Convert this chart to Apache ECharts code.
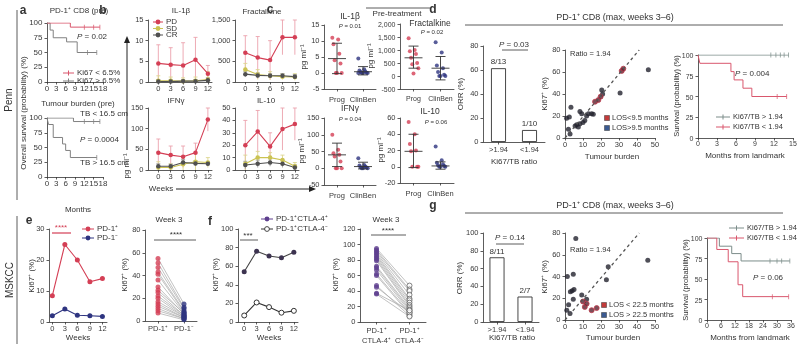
<!DOCTYPE html>
<html>
<head>
<meta charset="utf-8">
<title>Ki67 / tumour burden figure</title>
<script src="https://cdn.jsdelivr.net/npm/echarts@6/dist/echarts.min.js"></script>
<style>
  html, body { margin: 0; padding: 0; background: #fff; }
  #wrap { position: relative; width: 800px; height: 350px; }
  #chart { width: 800px; height: 350px; }
  .ytick { position: absolute; transform: translate(-100%, -50%); white-space: nowrap; line-height: 1;
    color: #3a3a3a; font-family: "Liberation Sans", Arial, sans-serif; pointer-events: none; }
</style>
</head>
<body>
<div id="wrap"><div id="chart"></div></div>
<script>
// ---- data ----
const weeks = [0, 3, 6, 9, 12];

// a: Penn overall survival (months, %)
const kmKi67Low = [[0, 100], [7.5, 93], [17, 93]];
const kmKi67LowCens = [[12, 93], [15, 93], [17, 93]];
const kmKi67High = [[0, 100], [1, 88], [2, 75], [6.3, 68], [9.7, 50], [16, 50]];
const kmKi67HighCens = [[13, 50], [16, 50]];
const kmTbLow = [[0, 100], [8.5, 94], [17, 94]];
const kmTbLowCens = [[12, 94], [15, 94], [17, 94]];
const kmTbHigh = [[0, 100], [0.5, 89], [2, 67], [5, 56], [6, 45], [7.5, 33], [16, 33]];
const kmTbHighCens = [[16, 33]];

// b: cytokines by response (mean and upper error)
const il1bPd = [4.5, 4.2, 4.0, 5.4, 2.0], il1bPdHi = [9.0, 8.3, 9.5, 10.8, 4.0];
const il1bSd = [0.3, 0.3, 0.2, 0.3, 0.6], il1bSdHi = [1.5, 1.2, 1.0, 1.2, 2.5];
const il1bCr = [0.1, 0.1, 0.2, 0.2, 0.4], il1bCrHi = [0.6, 0.5, 0.6, 0.6, 1.0];
const fracPd = [710, 590, 530, 1080, 1080], fracPdHi = [1120, 1100, 1000, 1500, 1500];
const fracSd = [300, 180, 150, 130, 120], fracSdHi = [450, 300, 250, 200, 200];
const fracCr = [190, 160, 150, 150, 130], fracCrHi = [260, 220, 200, 200, 180];
const ifnPd = [42, 36, 32, 42, 122], ifnPdHi = [75, 58, 58, 65, 150];
const ifnSd = [6, 6, 14, 20, 18], ifnSdHi = [20, 15, 30, 40, 30];
const ifnCr = [9, 9, 18, 16, 15], ifnCrHi = [15, 14, 25, 22, 20];
const il10Pd = [20, 31, 19, 33, 37], il10PdHi = [40, 48, 30, 50, 50];
const il10Sd = [5, 10, 10, 8, 3], il10SdHi = [12, 15, 14, 12, 6];
const il10Cr = [4, 5, 6, 5, 2], il10CrHi = [7, 8, 9, 8, 4];

// c: pre-treatment, Prog vs ClinBen
const groups = ['Prog', 'ClinBen'];
const cIl1bProg = [11, 10.5, 9, 6, 4, 3, 0, 0, 0];
const cIl1bClin = [4.5, 1.2, 0.8, 0.5, 0.3, 0.1, 0, 0, 0, 0];
const cIl1bMean = [4.5, 0.4], cIl1bLo = [-0.2, -0.6], cIl1bHi = [9.3, 2.0];
const cFracProg = [1450, 1000, 950, 850, 700, 500, 450, 300, 100];
const cFracClin = [1300, 900, 400, 300, 150, 50, 0, 0, 0];
const cFracMean = [700, 300], cFracLo = [300, -150], cFracHi = [1150, 750];
const cIfnProg = [100, 55, 45, 40, 35, 20, 0, 0, 0];
const cIfnClin = [30, 10, 8, 5, 3, 2, 0, 0, 0];
const cIfnMean = [40, 5], cIfnLo = [5, -2], cIfnHi = [75, 18];
const cIl10Prog = [55, 40, 28, 20, 19, 0, 0, 0];
const cIl10Clin = [25, 8, 5, 3, 2, 1, 0, 0, 0];
const cIl10Mean = [19, 1], cIl10Lo = [-1, -3], cIl10Hi = [40, 6];

// d / g: ORR by Ki67/TB ratio
const ratioCats = ['>1.94', '<1.94'];
const dOrr = [61.5, 10], dOrrText = ['8/13', '1/10'];
const gOrr = [72.7, 28.6], gOrrText = ['8/11', '2/7'];
const ratio = 1.94;
// tumour burden vs Ki67+ (%)
const dLosLong = [[0.9, 18], [1.9, 8], [2.8, 3.6], [3.3, 28], [2.4, 19], [5.6, 11], [6.5, 12], [7.4, 10], [8.3, 13], [10, 14],
  [11, 16], [8.3, 24], [9.3, 22], [12, 20], [13, 22], [14.8, 22], [15.7, 21.5], [20.4, 43.6], [20.9, 40], [30.6, 41], [46.3, 62]];
const dLosShort = [[16.7, 33], [18.5, 34.5], [19.8, 37.6], [31.5, 61], [32.4, 63]];
const gLosLong = [[6, 75], [1.3, 40], [4.6, 42], [3, 26], [4, 27], [5, 28], [2, 14], [4.6, 19], [9.3, 23], [12, 19],
  [24, 49], [23, 37], [46, 55], [2.8, 6], [1, 9]];
const gLosShort = [[10, 17], [11, 12], [14.8, 9], [17.6, 11], [12, 15]];
// survival from landmark
const dKmHigh = [[0, 100], [14.3, 100]];
const dKmHighCens = [[11.5, 100], [12.3, 100], [13, 100], [13.6, 100], [14.3, 100]];
const dKmLow = [[0, 100], [0.3, 90], [5.2, 80], [5.7, 70], [7.1, 60], [8.5, 50], [14, 50]];
const dKmLowCens = [[12.5, 50], [14, 50]];
const gKmHigh = [[0, 100], [5.3, 90], [10.6, 81], [14.6, 72], [35.5, 72]];
const gKmHighCens = [[27, 72], [30, 72], [32, 72], [35.5, 72]];
const gKmLow = [[0, 100], [4.2, 86], [9.1, 71], [13.3, 43], [15.3, 28.5], [35, 28.5]];
const gKmLowCens = [[28, 28.5], [35, 28.5]];

// e: MSKCC Ki67+ of PD-1+ / PD-1- CD8
const ePdPos = [8.5, 25, 20, 13, 14];
const ePdNeg = [2, 4.2, 2.2, 2, 1.8];
const pdCats = ['PD-1⁺', 'PD-1⁻'];
const eWk3Pos = [55, 51, 47, 43, 41, 36, 30, 27, 25, 22, 20, 17, 15, 13, 11, 9, 7];
const eWk3Neg = [15, 12, 11, 9, 8, 7, 6, 7, 5, 5, 4, 4, 3, 3, 2, 2, 1];

// f: CTLA-4 split
const fCtlaPos = [54, 76, 71, 69, 75];
const fCtlaNeg = [7, 21, 16, 10, 12];
const ctlaCats = ['PD-1⁺\nCTLA-4⁺', 'PD-1⁺\nCTLA-4⁻'];
const fWk3Pos = [95, 93, 91, 89, 87, 85, 83, 81, 79, 72, 70, 67, 62, 60, 47, 45, 37, 36];
const fWk3Neg = [47, 42, 40, 35, 30, 28, 25, 22, 20, 18, 16, 14, 12, 10, 8, 12, 15, 7];

// ---- styles ----
const FONT = '"Liberation Sans", Arial, sans-serif';
const INK = '#333';
const RED = '#d43f55';
const KMRED = '#d9576d';
const KMGREY = '#7c8d8a';
const NAVY = '#2e3480';
const YEL = '#cbc352';
const PURP = '#5e3f8e';

const grids = [], xAxes = [], yAxes = [], series = [], graphics = [];
const yFmt = [], ySize = [];

function axisBase() {
  return {
    axisLine: { show: true, onZero: false, lineStyle: { color: INK, width: 0.8 } },
    axisTick: { show: true, length: 2.5, lineStyle: { color: INK, width: 0.8 } },
    axisLabel: { show: true, fontSize: 8, color: '#3a3a3a', margin: 3, fontFamily: FONT, hideOverlap: false },
    splitLine: { show: false }
  };
}
function mergeAxis(extra) {
  const base = axisBase();
  for (const k in extra) {
    if (base[k] && typeof extra[k] === 'object' && !Array.isArray(extra[k])) base[k] = Object.assign({}, base[k], extra[k]);
    else base[k] = extra[k];
  }
  return base;
}
// y tick labels are written after layout (see bottom); the y axes keep only line + ticks
function panel(box, x, y, fs) {
  const gi = grids.length;
  const size = fs || 8;
  grids.push({ left: box[0], top: box[1], width: box[2], height: box[3], containLabel: false });
  const xa = Object.assign({ type: 'value' }, x);
  xa.axisLabel = Object.assign({ fontSize: size }, xa.axisLabel || {});
  xAxes.push(Object.assign(mergeAxis(xa), { gridIndex: gi }));
  yFmt[gi] = y.fmt || (v => String(v));
  ySize[gi] = size;
  const ya = Object.assign({ type: 'value' }, y);
  delete ya.fmt;
  ya.axisLabel = { show: false };
  yAxes.push(Object.assign(mergeAxis(ya), { gridIndex: gi }));
  return gi;
}
const wkX = (lo, hi) => ({ min: lo, max: hi, axisLabel: { customValues: weeks }, axisTick: { customValues: weeks } });
const comma = v => v.toLocaleString('en-US');
const grpX = { min: 0.5, max: 2.5, axisLabel: { customValues: [1, 2], formatter: v => groups[v - 1], margin: 7 }, axisTick: { customValues: [1, 2] } };

function kmSeries(gi, data, color, cens) {
  series.push({ type: 'line', xAxisIndex: gi, yAxisIndex: gi, data, step: 'end', symbol: 'none',
    lineStyle: { color, width: 1 } });
  series.push({ type: 'scatter', xAxisIndex: gi, yAxisIndex: gi, data: cens, symbol: 'rect',
    symbolSize: [0.9, 5], itemStyle: { color } });
}
function errorBars(gi, mean, hi, color) {
  series.push({
    type: 'custom', xAxisIndex: gi, yAxisIndex: gi,
    data: weeks.map((w, i) => [w, Math.max(0, 2 * mean[i] - hi[i]), hi[i]]),
    renderItem: (p, api) => {
      const a = api.coord([api.value(0), api.value(1)]);
      const b = api.coord([api.value(0), api.value(2)]);
      const st = { stroke: color, lineWidth: 0.9 };
      return { type: 'group', children: [
        { type: 'line', shape: { x1: a[0], y1: a[1], x2: b[0], y2: b[1] }, style: st },
        { type: 'line', shape: { x1: b[0] - 2, y1: b[1], x2: b[0] + 2, y2: b[1] }, style: st }
      ] };
    }
  });
}
function timeLine(gi, vals, color, opt = {}) {
  series.push({ type: 'line', xAxisIndex: gi, yAxisIndex: gi, data: weeks.map((w, i) => [w, vals[i]]),
    symbol: 'circle', symbolSize: opt.size || 4.5,
    itemStyle: Object.assign({ color }, opt.item || {}),
    lineStyle: { color: opt.line || color, width: 1.1 }, z: opt.z || 3 });
}
function cytoPanel(gi, pd, pdHi, sd, sdHi, cr, crHi) {
  errorBars(gi, pd, pdHi, '#eba2ad');
  errorBars(gi, sd, sdHi, '#ddd690');
  errorBars(gi, cr, crHi, '#9a9a9a');
  timeLine(gi, sd, YEL);
  timeLine(gi, cr, '#505050');
  timeLine(gi, pd, RED, { z: 4 });
}
const jit = i => (((i * 5) % 9) - 4) * 0.045;
function dotPanel(gi, prog, clin, mean, lo, hi) {
  series.push({ type: 'scatter', xAxisIndex: gi, yAxisIndex: gi, data: prog.map((v, i) => [1 + jit(i), v]),
    symbolSize: 4, itemStyle: { color: RED } });
  series.push({ type: 'scatter', xAxisIndex: gi, yAxisIndex: gi, data: clin.map((v, i) => [2 + jit(i), v]),
    symbolSize: 4, itemStyle: { color: NAVY } });
  series.push({
    type: 'custom', xAxisIndex: gi, yAxisIndex: gi, z: 5,
    data: mean.map((m, i) => [i + 1, m, lo[i], hi[i]]),
    renderItem: (p, api) => {
      const m = api.coord([api.value(0), api.value(1)]);
      const l = api.coord([api.value(0), api.value(2)]);
      const h = api.coord([api.value(0), api.value(3)]);
      const st = { stroke: '#333', lineWidth: 0.9 };
      return { type: 'group', children: [
        { type: 'line', shape: { x1: m[0] - 9, y1: m[1], x2: m[0] + 9, y2: m[1] }, style: st },
        { type: 'line', shape: { x1: l[0], y1: l[1], x2: h[0], y2: h[1] }, style: st },
        { type: 'line', shape: { x1: h[0] - 5, y1: h[1], x2: h[0] + 5, y2: h[1] }, style: st },
        { type: 'line', shape: { x1: l[0] - 5, y1: l[1], x2: l[0] + 5, y2: l[1] }, style: st }
      ] };
    }
  });
}
function barPanel(gi, vals, txts) {
  series.push({ type: 'bar', xAxisIndex: gi, yAxisIndex: gi, data: vals, barWidth: 15,
    itemStyle: { color: '#fff', borderColor: '#333', borderWidth: 0.9 },
    label: { show: true, position: 'top', distance: 2, fontSize: 8, color: '#333', fontFamily: FONT,
      formatter: p => txts[p.dataIndex] } });
}
function scatterPanel(gi, longPts, shortPts) {
  series.push({ type: 'line', xAxisIndex: gi, yAxisIndex: gi, data: [[0, 0], [80 / ratio, 80]], symbol: 'none',
    lineStyle: { color: '#555', width: 1.3, type: [3, 3] } });
  series.push({ type: 'scatter', xAxisIndex: gi, yAxisIndex: gi, data: longPts, symbolSize: 5,
    itemStyle: { color: '#23232e' } });
  series.push({ type: 'scatter', xAxisIndex: gi, yAxisIndex: gi, data: shortPts, symbolSize: 5,
    itemStyle: { color: '#5a2330', borderColor: '#c23b4c', borderWidth: 1 } });
}
function pairedPanel(gi, a, b, colA, colB, openB) {
  series.push({
    type: 'custom', xAxisIndex: gi, yAxisIndex: gi, data: a.map((v, i) => [v, b[i]]),
    renderItem: (p, api) => {
      const s = api.coord([0, api.value(0)]), e = api.coord([1, api.value(1)]);
      return { type: 'line', shape: { x1: s[0], y1: s[1], x2: e[0], y2: e[1] }, style: { stroke: '#a8a8a8', lineWidth: 0.7 } };
    }
  });
  series.push({ type: 'scatter', xAxisIndex: gi, yAxisIndex: gi, data: a.map(v => [0, v]), symbolSize: 5,
    itemStyle: { color: colA }, z: 4 });
  series.push({ type: 'scatter', xAxisIndex: gi, yAxisIndex: gi, data: b.map(v => [1, v]), symbolSize: 5,
    itemStyle: openB ? { color: '#fff', borderColor: colB, borderWidth: 0.9 } : { color: colB }, z: 4 });
}

// ---- graphic helpers (text, rules, legends) ----
function txtEl(x, y, s, o = {}) {
  const font = `${o.bold ? 'bold ' : ''}${o.size || 8}px ${FONT}`;
  return { type: 'text', x, y, rotation: o.rot || 0, z: 100, silent: true,
    style: { text: s, font, fill: o.color || '#333', textAlign: o.align || 'center', align: o.align || 'center',
      textVerticalAlign: 'middle', verticalAlign: 'middle' } };
}
function txt(x, y, s, o) { graphics.push(txtEl(x, y, s, o)); }
function ptxt(x, y, val, o = {}) {
  const size = o.size || 8;
  graphics.push({ type: 'text', x, y, z: 100, silent: true,
    style: { text: '{i|P} = ' + val, font: `${size}px ${FONT}`, fill: '#333', textAlign: o.align || 'left', align: o.align || 'left',
      textVerticalAlign: 'middle', verticalAlign: 'middle',
      rich: { i: { fontStyle: 'italic', fontSize: size, fontFamily: FONT, fill: '#333' } } } });
}
function ln(x1, y1, x2, y2, color = '#333', w = 0.8) {
  graphics.push({ type: 'line', z: 100, silent: true, shape: { x1, y1, x2, y2 }, style: { stroke: color, lineWidth: w } });
}
function mark(x, y, kind, color) {
  if (kind === 'tick') ln(x, y - 2.5, x, y + 2.5, color, 1);
  else graphics.push({ type: 'circle', z: 101, silent: true, shape: { cx: x, cy: y, r: 2.4 },
    style: kind === 'open' ? { fill: '#fff', stroke: color, lineWidth: 0.9 } : { fill: color } });
}
function leg(x1, x2, y, color, kind, label, size) {
  ln(x1, y, x2, y, color, 1);
  mark((x1 + x2) / 2, y, kind, color);
  txt(x2 + 3, y, label, { align: 'left', size: size || 8 });
}
function sq(x, y, color, label) {
  graphics.push({ type: 'rect', z: 101, silent: true, shape: { x: x - 2.5, y: y - 2.5, width: 5, height: 5 },
    style: { fill: color, stroke: '#333', lineWidth: 0.5 } });
  txt(x + 5, y, label, { align: 'left', size: 7.5 });
}
const R90 = Math.PI / 2;

// ---- panels ----
// a
const a1 = panel([47, 23, 56, 59], { min: 0, max: 18, interval: 3 }, { min: 0, max: 100, interval: 25 });
kmSeries(a1, kmKi67High, '#808080', kmKi67HighCens);
kmSeries(a1, kmKi67Low, KMRED, kmKi67LowCens);
const a2 = panel([47, 118, 56, 59], { min: 0, max: 18, interval: 3 }, { min: 0, max: 100, interval: 25 });
kmSeries(a2, kmTbLow, '#808080', kmTbLowCens);
kmSeries(a2, kmTbHigh, '#808080', kmTbHighCens);

// b
const b1 = panel([148, 20, 64, 62], wkX(-2.5, 13), { min: 0, max: 15, interval: 5 }, 7.5);
cytoPanel(b1, il1bPd, il1bPdHi, il1bSd, il1bSdHi, il1bCr, il1bCrHi);
const b2 = panel([235, 20, 64, 62], wkX(-2.5, 13), { min: 0, max: 1500, interval: 500, fmt: comma }, 7.5);
cytoPanel(b2, fracPd, fracPdHi, fracSd, fracSdHi, fracCr, fracCrHi);
const b3 = panel([148, 108, 64, 62], wkX(-2.5, 13), { min: 0, max: 150, interval: 50 }, 7.5);
cytoPanel(b3, ifnPd, ifnPdHi, ifnSd, ifnSdHi, ifnCr, ifnCrHi);
const b4 = panel([235, 108, 64, 62], wkX(-2.5, 13), { min: 0, max: 50, interval: 10 }, 7.5);
cytoPanel(b4, il10Pd, il10PdHi, il10Sd, il10SdHi, il10Cr, il10CrHi);

// c
const c1 = panel([324, 25, 52, 64], grpX, { min: -5, max: 15, interval: 5 }, 7.5);
dotPanel(c1, cIl1bProg, cIl1bClin, cIl1bMean, cIl1bLo, cIl1bHi);
const c2 = panel([400, 24, 54, 65], grpX, { min: -500, max: 2000, interval: 500, fmt: comma }, 7);
dotPanel(c2, cFracProg, cFracClin, cFracMean, cFracLo, cFracHi);
const c3 = panel([324, 118, 52, 67], grpX, { min: -50, max: 150, interval: 50 }, 7.5);
dotPanel(c3, cIfnProg, cIfnClin, cIfnMean, cIfnLo, cIfnHi);
const c4 = panel([400, 118, 54, 65], grpX, { min: -20, max: 60, interval: 20 }, 7.5);
dotPanel(c4, cIl10Prog, cIl10Clin, cIl10Mean, cIl10Lo, cIl10Hi);

// d
const catX = (cats, extra) => ({ type: 'category', data: cats, axisTick: { alignWithLabel: true },
  axisLabel: Object.assign({ margin: 4, interval: 0 }, extra || {}) });
const d1 = panel([483, 46, 62, 96], catX(ratioCats), { min: 0, max: 80, interval: 20 }, 7.5);
barPanel(d1, dOrr, dOrrText);
const d2 = panel([565, 50, 90, 88], { min: 0, max: 50, interval: 10 }, { min: 0, max: 80, interval: 20 }, 7.5);
scatterPanel(d2, dLosLong, dLosShort);
const d3 = panel([698, 55, 95, 83], { min: 0, max: 15, interval: 3 }, { min: 0, max: 100, interval: 25 }, 7);
kmSeries(d3, dKmHigh, KMGREY, dKmHighCens);
kmSeries(d3, dKmLow, KMRED, dKmLowCens);

// e
const e1 = panel([49, 229, 58, 93], wkX(-0.8, 13.1), { min: 0, max: 30, interval: 10 }, 7.5);
timeLine(e1, ePdNeg, NAVY, { size: 5 });
timeLine(e1, ePdPos, RED, { size: 5 });
const e2 = panel([145, 230, 52, 91], catX(pdCats), { min: 0, max: 80, interval: 20 }, 7.5);
pairedPanel(e2, eWk3Pos, eWk3Neg, RED, NAVY, false);

// f
const f1 = panel([238, 229, 60, 93], wkX(-1.5, 13), { min: 0, max: 100, interval: 20 }, 7.5);
timeLine(f1, fCtlaPos, '#3d3350', { size: 5, line: '#444' });
timeLine(f1, fCtlaNeg, '#333', { size: 5, item: { color: '#fff', borderColor: '#333', borderWidth: 1 } });
const f2 = panel([360, 229, 66, 93], catX(ctlaCats, { lineHeight: 10 }), { min: 0, max: 120, interval: 20 }, 7.5);
pairedPanel(f2, fWk3Pos, fWk3Neg, PURP, '#555', true);

// g
const g1 = panel([483, 233, 56, 89], catX(ratioCats), { min: 0, max: 100, interval: 20 }, 7.5);
barPanel(g1, gOrr, gOrrText);
const g2 = panel([565, 233, 90, 87], { min: 0, max: 50, interval: 10 }, { min: 0, max: 80, interval: 20 }, 7.5);
scatterPanel(g2, gLosLong, gLosShort);
const g3 = panel([707, 238, 84, 82], { min: 0, max: 36, interval: 6 }, { min: 0, max: 100, interval: 25 }, 7);
kmSeries(g3, gKmHigh, KMGREY, gKmHighCens);
kmSeries(g3, gKmLow, KMRED, gKmLowCens);

// ---- annotations ----
// cohort side bars
txt(9, 100, 'Penn', { rot: R90, size: 10 });
ln(17, 10, 17, 200);
txt(10, 280, 'MSKCC', { rot: R90, size: 10 });
ln(17, 216, 17, 344);

// a
txt(23, 11, 'a', { bold: true, size: 12 });
txt(79, 11, 'PD-1⁺ CD8 (pre)');
ptxt(77, 37, '0.02');
leg(63, 74, 73, KMRED, 'tick', 'Ki67 < 6.5%');
leg(63, 74, 81, '#808080', 'tick', 'Ki67 > 6.5%');
txt(24, 113, 'Overall survival (probability) (%)', { rot: R90 });
txt(78, 104, 'Tumour burden (pre)');
txt(80, 114, 'TB < 16.5 cm', { align: 'left' });
ptxt(80, 140, '0.0004');
txt(80, 163, 'TB > 16.5 cm', { align: 'left' });
txt(78, 210, 'Months');

// b
txt(103, 11, 'b', { bold: true, size: 12 });
txt(181, 11, 'IL-1β');
txt(262, 12, 'Fractalkine');
txt(176, 101, 'IFNγ');
txt(266, 101, 'IL-10');
leg(153, 163, 22, RED, 'dot', 'PD');
leg(153, 163, 28.5, YEL, 'dot', 'SD');
leg(153, 163, 35, '#505050', 'dot', 'CR');
ln(127, 150, 127, 42, '#222', 1);
graphics.push({ type: 'polygon', z: 100, silent: true, shape: { points: [[124, 43], [130, 43], [127, 36]] }, style: { fill: '#222' } });
txt(127, 166, 'pg ml⁻¹', { rot: R90 });
txt(161, 189, 'Weeks');
ln(176, 189, 310, 189, '#222', 1);
graphics.push({ type: 'polygon', z: 100, silent: true, shape: { points: [[309, 186], [309, 192], [316, 189]] }, style: { fill: '#222' } });

// c
txt(270, 10, 'c', { bold: true, size: 12 });
ln(366, 8, 430, 8);
txt(397, 14, 'Pre-treatment');
txt(350, 17, 'IL-1β', { size: 8.5 });
ptxt(350, 26, '0.01', { size: 6, align: 'center' });
txt(430, 24, 'Fractalkine', { size: 8.5 });
ptxt(432, 32, '0.02', { size: 6, align: 'center' });
txt(350, 109, 'IFNγ', { size: 8.5 });
ptxt(350, 119, '0.04', { size: 6, align: 'center' });
txt(430, 112, 'IL-10', { size: 8.5 });
ptxt(436, 122, '0.06', { size: 6, align: 'center' });
txt(304, 57, 'pg ml⁻¹', { rot: R90 });
txt(302, 151, 'pg ml⁻¹', { rot: R90 });
txt(371, 56, 'pg ml⁻¹', { rot: R90 });
txt(381, 150, 'pg ml⁻¹', { rot: R90 });

// d
txt(433, 10, 'd', { bold: true, size: 12 });
txt(615, 18, 'PD-1⁺ CD8 (max, weeks 3–6)', { size: 9 });
ln(465, 25, 783, 25);
txt(461, 94, 'ORR (%)', { rot: R90 });
ptxt(514, 45, '0.03', { align: 'center' });
ln(502, 50, 528, 50);
txt(514, 162, 'Ki67/TB ratio');
txt(545, 94, 'Ki67⁺ (%)', { rot: R90 });
txt(570, 54, 'Ratio = 1.94', { align: 'left', size: 7.5 });
sq(607, 118, '#c23b3b', 'LOS<9.5 months');
sq(607, 128, '#3b5a91', 'LOS>9.5 months');
txt(612, 157, 'Tumour burden');
txt(677, 96, 'Survival (probability) (%)', { rot: R90, size: 7.5 });
ptxt(735, 74, '0.004');
leg(716, 730, 117, KMGREY, 'tick', 'Ki67/TB > 1.94', 7.5);
leg(716, 730, 127, KMRED, 'tick', 'Ki67/TB < 1.94', 7.5);
txt(745, 156, 'Months from landmark');

// e
txt(29, 221, 'e', { bold: true, size: 12 });
txt(61, 228, '****', { color: RED });
ln(52, 233, 71, 233, RED, 1.2);
leg(82, 94, 229, RED, 'dot', 'PD-1⁺');
leg(82, 94, 238, NAVY, 'dot', 'PD-1⁻');
txt(32, 276, 'Ki67⁺ (%)', { rot: R90 });
txt(78, 338, 'Weeks');
txt(169, 220, 'Week 3');
txt(176, 235, '****');
ln(154, 240, 196, 240);
txt(125, 275, 'Ki67⁺ (%)', { rot: R90 });

// f
txt(210, 222, 'f', { bold: true, size: 12 });
leg(261, 273, 219, PURP, 'dot', 'PD-1⁺CTLA-4⁺');
leg(261, 273, 229, '#333', 'open', 'PD-1⁺CTLA-4⁻');
txt(248, 236, '***');
ln(240, 240, 258, 240);
txt(216, 275, 'Ki67⁺ (%)', { rot: R90 });
txt(269, 338, 'Weeks');
txt(386, 220, 'Week 3');
txt(388, 231, '****');
ln(371, 235, 406, 235);
txt(336, 275, 'Ki67⁺ (%)', { rot: R90 });

// g
txt(433, 206, 'g', { bold: true, size: 12 });
txt(615, 206, 'PD-1⁺ CD8 (max, weeks 3–6)', { size: 9 });
ln(465, 213, 783, 213);
txt(460, 278, 'ORR (%)', { rot: R90 });
ptxt(510, 238, '0.14', { align: 'center' });
ln(496, 244, 524, 244);
txt(512, 338, 'Ki67/TB ratio');
txt(545, 277, 'Ki67⁺ (%)', { rot: R90 });
txt(570, 250, 'Ratio = 1.94', { align: 'left', size: 7.5 });
sq(604, 305, '#c23b3b', 'LOS < 22.5 months');
sq(604, 315, '#3b5a91', 'LOS > 22.5 months');
txt(613, 338, 'Tumour burden');
txt(686, 280, 'Survival (probability) (%)', { rot: R90, size: 7.5 });
ptxt(753, 278, '0.06');
leg(729, 744, 228, KMGREY, 'tick', 'Ki67/TB > 1.94', 7.5);
leg(729, 744, 238, KMRED, 'tick', 'Ki67/TB < 1.94', 7.5);
txt(750, 338, 'Months from landmark');

const chart = echarts.init(document.getElementById('chart'), null, { renderer: 'canvas' });
chart.setOption({
  backgroundColor: '#fff',
  animation: false,
  textStyle: { fontFamily: FONT },
  grid: grids,
  xAxis: xAxes,
  yAxis: yAxes,
  series: series.map(s => Object.assign({ silent: true }, s)),
  graphic: graphics
});

// y tick labels: HTML text laid over the canvas, placed through each y axis scale
const wrap = document.getElementById('wrap');
yAxes.forEach((ax, gi) => {
  const g = grids[gi];
  for (let v = ax.min; v <= ax.max + 1e-9; v += ax.interval) {
    let py = chart.convertToPixel({ yAxisIndex: gi }, v);
    if (!isFinite(py)) py = g.top + g.height * (ax.max - v) / (ax.max - ax.min);
    const el = document.createElement('div');
    el.className = 'ytick';
    el.style.left = (g.left - 4.5) + 'px';
    el.style.top = py + 'px';
    el.style.fontSize = ySize[gi] + 'px';
    el.textContent = yFmt[gi](v);
    wrap.appendChild(el);
  }
});
</script>
</body>
</html>
